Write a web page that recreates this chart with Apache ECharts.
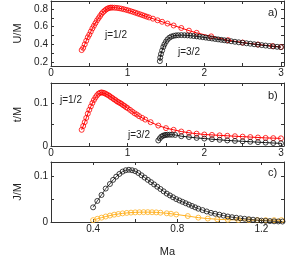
<!DOCTYPE html>
<html><head><meta charset="utf-8">
<script src="https://cdn.jsdelivr.net/npm/echarts@6/dist/echarts.min.js"></script>
<style>html,body{margin:0;padding:0;background:#fff}#c{width:298px;height:258px}</style>
</head><body><div id="c"></div><script>
// Panel a) U/M vs Ma
const aRedMa = [0.40,0.42,0.44,0.46,0.48,0.50,0.52,0.54,0.56,0.58,0.60,0.62,0.64,0.66,0.68,0.70,0.72,0.74,0.76,0.78,0.80,0.83,0.86,0.89,0.92,0.95,0.98,1.01,1.04,1.07,1.10,1.13,1.16,1.19,1.22,1.25,1.28,1.33,1.39,1.45,1.52,1.60,1.70,1.80,1.90,2.09,2.31,2.50,2.70,2.89,3.00];
const aRedU  = [0.335,0.36,0.40,0.44,0.48,0.51,0.545,0.58,0.61,0.64,0.67,0.695,0.72,0.745,0.765,0.78,0.795,0.805,0.812,0.815,0.815,0.814,0.812,0.808,0.803,0.797,0.79,0.783,0.775,0.767,0.758,0.749,0.74,0.731,0.722,0.713,0.704,0.69,0.672,0.655,0.635,0.613,0.585,0.555,0.53,0.49,0.447,0.42,0.398,0.38,0.37];
const aBlkMa = [1.42,1.425,1.435,1.45,1.465,1.48,1.50,1.52,1.545,1.57,1.60,1.63,1.66,1.70,1.74,1.78,1.82,1.86,1.90,1.94,1.98,2.02,2.06,2.10,2.14,2.18,2.22,2.26,2.30,2.35,2.40,2.45,2.50,2.55,2.60,2.65,2.70,2.75,2.80,2.85,2.90,2.95,3.00];
const aBlkU  = [0.21,0.25,0.29,0.33,0.37,0.40,0.43,0.455,0.475,0.488,0.496,0.501,0.503,0.504,0.503,0.501,0.498,0.494,0.49,0.486,0.481,0.476,0.471,0.466,0.461,0.456,0.451,0.446,0.441,0.435,0.429,0.423,0.418,0.412,0.407,0.401,0.396,0.391,0.386,0.381,0.377,0.372,0.368];
// Panel b) t/M vs Ma
const bRedMa = [0.40,0.42,0.44,0.46,0.48,0.50,0.52,0.54,0.56,0.58,0.60,0.62,0.64,0.66,0.68,0.70,0.72,0.74,0.76,0.78,0.80,0.82,0.84,0.86,0.88,0.90,0.92,0.94,0.96,0.98,1.00,1.03,1.06,1.09,1.12,1.15,1.19,1.23,1.30,1.40,1.50,1.60,1.70,1.80,1.90,2.00,2.10,2.20,2.30,2.40,2.50,2.60,2.70,2.80,2.90,3.00];
const bRedT  = [0.038,0.047,0.056,0.066,0.076,0.085,0.093,0.101,0.108,0.114,0.119,0.123,0.125,0.126,0.125,0.124,0.122,0.120,0.118,0.115,0.113,0.110,0.108,0.105,0.103,0.101,0.099,0.096,0.094,0.091,0.089,0.085,0.081,0.077,0.074,0.070,0.066,0.062,0.056,0.048,0.042,0.038,0.034,0.031,0.029,0.027,0.026,0.025,0.024,0.023,0.022,0.021,0.020,0.019,0.0185,0.018];
const bBlkMa = [1.40,1.42,1.44,1.46,1.48,1.50,1.52,1.55,1.58,1.62,1.70,1.80,1.90,2.00,2.10,2.20,2.30,2.40,2.50,2.60,2.70,2.80,2.90,3.00];
const bBlkT  = [0.013,0.018,0.022,0.024,0.0255,0.026,0.0265,0.0265,0.0265,0.026,0.023,0.021,0.019,0.0175,0.016,0.0145,0.013,0.012,0.011,0.010,0.009,0.008,0.007,0.0063];
// Panel c) J/M vs Ma
const cBlkMa = [0.40,0.42,0.44,0.46,0.48,0.495,0.51,0.525,0.54,0.555,0.57,0.585,0.60,0.615,0.63,0.645,0.66,0.675,0.69,0.705,0.72,0.735,0.75,0.765,0.78,0.795,0.81,0.825,0.84,0.855,0.87,0.885,0.90,0.92,0.94,0.96,0.98,1.00,1.02,1.04,1.06,1.08,1.10,1.12,1.14,1.16,1.18,1.20,1.22,1.24,1.26,1.28,1.30];
const cBlkJ  = [0.032,0.046,0.059,0.073,0.083,0.092,0.099,0.105,0.110,0.113,0.114,0.113,0.111,0.107,0.102,0.097,0.092,0.087,0.082,0.077,0.072,0.067,0.062,0.058,0.054,0.050,0.047,0.044,0.041,0.038,0.035,0.032,0.029,0.026,0.023,0.020,0.018,0.016,0.014,0.012,0.0105,0.0093,0.008,0.007,0.006,0.005,0.004,0.003,0.0025,0.002,0.0015,0.0012,0.001];
const cOrgMa = [0.40,0.42,0.44,0.46,0.48,0.50,0.52,0.54,0.56,0.58,0.60,0.62,0.64,0.66,0.68,0.70,0.72,0.75,0.77,0.795,0.85,0.90,0.945,0.99,1.04,1.09,1.14,1.18,1.22,1.26,1.295];
const cOrgJ  = [0.004,0.007,0.0095,0.012,0.014,0.016,0.0175,0.0188,0.0198,0.0205,0.021,0.0213,0.0215,0.0215,0.0213,0.021,0.0203,0.019,0.018,0.0165,0.013,0.0095,0.0075,0.006,0.005,0.0045,0.0042,0.004,0.004,0.004,0.004];
// Ticks and labels
const abXTicks = [0,0.5,1,1.5,2,2.5,3];
const abXLabels = [0,1,2,3];
const aYTicks = [0.2,0.3,0.4,0.5,0.6,0.7,0.8];
const aYLabels = [0.2,0.4,0.6,0.8];
const bYTicks = [0,0.05,0.1];
const bYLabels = [0,0.1];
const cXTicks = [0.4,0.6,0.8,1.0,1.2];
const cXLabels = [0.4,0.8,1.2];
const cYTicks = [0,0.05,0.1];
const cYLabels = [0,0.1];

const zip = (xs, ys) => xs.map((x, i) => [x, ys[i]]);
const FONT = 'Liberation Sans';
const AX = '#333';
const lbl = {fontFamily: FONT, fontSize: 10, color: '#222'};

function xAxis(grid, min, max, ticks, labels, pos) {
  return {
    type: 'value', gridIndex: grid, min: min, max: max, position: pos,
    axisLine: {show: true, onZero: false, lineStyle: {color: AX, width: 1}},
    axisTick: {show: true, inside: true, length: 3, customValues: ticks, lineStyle: {color: AX}},
    axisLabel: {show: pos === 'bottom', customValues: labels, margin: 2, ...lbl,
      formatter: v => String(v)},
    splitLine: {show: false}
  };
}
function yAxis(grid, min, max, ticks, labels, pos, name, gap) {
  return {
    type: 'value', gridIndex: grid, min: min, max: max, position: pos,
    name: pos === 'left' ? name : '', nameLocation: 'middle', nameGap: gap,
    nameTextStyle: {fontFamily: FONT, fontSize: 11, color: '#222'},
    axisLine: {show: true, onZero: false, lineStyle: {color: AX, width: 1}},
    axisTick: {show: true, inside: true, length: 3, customValues: ticks, lineStyle: {color: AX}},
    axisLabel: {show: pos === 'left', customValues: labels, margin: 3, ...lbl,
      formatter: v => String(v)},
    splitLine: {show: false}
  };
}
function ser(data, xi, yi, color, lw) {
  return {
    type: 'line', data: data, xAxisIndex: xi, yAxisIndex: yi,
    symbol: 'circle', symbolSize: 5, showSymbol: true,
    lineStyle: {color: color, width: lw},
    itemStyle: {color: 'rgba(255,255,255,0)', borderColor: color, borderWidth: 0.8},
    animation: false, z: 2
  };
}
function txt(x, y, s, size) {
  return {type: 'text', x: x, y: y, z: 100,
    style: {text: s, font: size + 'px "Liberation Sans"', fill: '#222', textAlign: 'left', textVerticalAlign: 'middle'}};
}

const chart = echarts.init(document.getElementById('c'), null, {renderer: 'canvas'});
chart.setOption({
  backgroundColor: '#fff',
  animation: false,
  grid: [
    {left: 51, top: 1, width: 233, height: 65},
    {left: 51, top: 83, width: 233, height: 63},
    {left: 51, top: 162, width: 233, height: 66}
  ],
  xAxis: [
    xAxis(0, 0, 3.04, abXTicks, abXLabels, 'bottom'),
    xAxis(0, 0, 3.04, abXTicks, abXLabels, 'top'),
    xAxis(1, 0, 3.04, abXTicks, abXLabels, 'bottom'),
    xAxis(1, 0, 3.04, abXTicks, abXLabels, 'top'),
    Object.assign(xAxis(2, 0.2, 1.307, cXTicks, cXLabels, 'bottom'),
      {name: 'Ma', nameLocation: 'middle', nameGap: 24, nameTextStyle: {fontFamily: FONT, fontSize: 11, color: '#222'}}),
    xAxis(2, 0.2, 1.307, cXTicks, cXLabels, 'top')
  ],
  yAxis: [
    yAxis(0, 0.155, 0.89, aYTicks, aYLabels, 'left', 'U/M', 27),
    yAxis(0, 0.155, 0.89, aYTicks, aYLabels, 'right'),
    yAxis(1, 0, 0.148, bYTicks, bYLabels, 'left', 't/M', 27),
    yAxis(1, 0, 0.148, bYTicks, bYLabels, 'right'),
    yAxis(2, 0, 0.131, cYTicks, cYLabels, 'left', 'J/M', 27),
    yAxis(2, 0, 0.131, cYTicks, cYLabels, 'right')
  ],
  series: [
    ser(zip(aRedMa, aRedU), 0, 0, '#ff0000', 1),
    ser(zip(aBlkMa, aBlkU), 0, 0, '#111111', 1),
    ser(zip(bRedMa, bRedT), 2, 2, '#ff0000', 1),
    ser(zip(bBlkMa, bBlkT), 2, 2, '#111111', 1),
    ser(zip(cOrgMa, cOrgJ), 4, 4, '#ffb020', 1),
    ser(zip(cBlkMa, cBlkJ), 4, 4, '#111111', 0.8)
  ],
  graphic: [
    txt(105, 35, 'j=1/2', 10),
    txt(178, 52, 'j=3/2', 10),
    txt(60, 100, 'j=1/2', 10),
    txt(128, 135, 'j=3/2', 10),
    txt(268, 13, 'a)', 11),
    txt(268, 96, 'b)', 11),
    txt(268, 173, 'c)', 11)
  ]
});
</script></body></html>
